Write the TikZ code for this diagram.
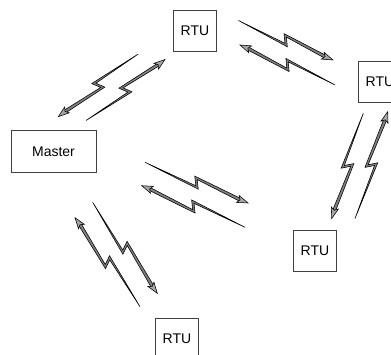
\documentclass[tikz,border=0pt]{standalone}
\usepackage{fontspec}
\setmainfont{Liberation Sans}
\tikzset{
  unitbox/.style={draw=black!75, line width=0.9pt, fill=white, minimum width=43.5pt,
    minimum height=41.5pt, inner sep=0pt, font=\fontsize{14}{16}\selectfont},
  boltshaft/.style={fill=black!50, draw=black, line width=0.55pt, line join=miter},
  bolthead/.style={fill=black!35, draw=black, line width=0.55pt, line join=miter}
}
\newcommand\boltarrow[2]{%
  \pgfpointdiff{\pgfpointanchor{#1}{center}}{\pgfpointanchor{#2}{center}}%
  \pgfgetlastxy{\bx}{\by}%
  \pgfmathsetmacro\bang{atan2(\by,\bx)}%
  \pgfmathsetmacro\blen{veclen(\bx,\by)}%
  \pgfmathsetmacro\bm{\blen/2}%
  \pgfmathsetmacro\bb{\blen-10}%
  \begin{scope}[shift={(#1)}, rotate=\bang, x=1pt, y=1pt]
    \filldraw[boltshaft] (0,0) -- (\bm+0.55,-3.15) -- (\bm-4.05,5.45) -- (\bb+2,1.5)
      -- (\bb+2,-1.5) -- (\bm-0.55,3.15) -- (\bm+4.05,-5.45) -- cycle;
    \filldraw[bolthead] (\blen,0) -- (\bb-1,3.7) -- (\bb+1.5,0) -- (\bb-1,-3.7) -- cycle;
  \end{scope}}
\begin{document}
\begin{tikzpicture}[x=1pt, y=-1pt]
  \clip (0,0) rectangle (391,355);
  \fill[white] (0,0) rectangle (391,355);
  % units
  \node[unitbox] (rtu1) at (195,31) {RTU};
  \node[unitbox] (rtu2) at (380,82) {RTU};
  \node[unitbox, minimum width=85pt] (master) at (53.5,151.5) {Master};
  \node[unitbox] (rtu3) at (315,251) {RTU};
  \node[unitbox] (rtu4) at (177,339) {RTU};
  % bolt end points
  \coordinate (at) at (138.3,54);   \coordinate (ah) at (58.3,116.7);
  \coordinate (bt) at (86,120.5);   \coordinate (bh) at (165,59.5);
  \coordinate (ct) at (238.5,20.5); \coordinate (ch) at (333,60);
  \coordinate (dt) at (335,85);     \coordinate (dh) at (240,45);
  \coordinate (et) at (363.3,113.3); \coordinate (eh) at (331.7,218.5);
  \coordinate (ft) at (355,218.5);  \coordinate (fh) at (387.7,111.7);
  \coordinate (gt) at (145,162.3);  \coordinate (gh) at (248,203);
  \coordinate (ht) at (245,227.3);  \coordinate (hh) at (141.7,185.7);
  \coordinate (it) at (140,306.7);  \coordinate (ih) at (75,217.7);
  \coordinate (jt) at (92.7,202.3); \coordinate (jh) at (157.3,293.3);
  \boltarrow{at}{ah}
  \boltarrow{bt}{bh}
  \boltarrow{ct}{ch}
  \boltarrow{dt}{dh}
  \boltarrow{et}{eh}
  \boltarrow{ft}{fh}
  \boltarrow{gt}{gh}
  \boltarrow{ht}{hh}
  \boltarrow{it}{ih}
  \boltarrow{jt}{jh}
\end{tikzpicture}
\end{document}
